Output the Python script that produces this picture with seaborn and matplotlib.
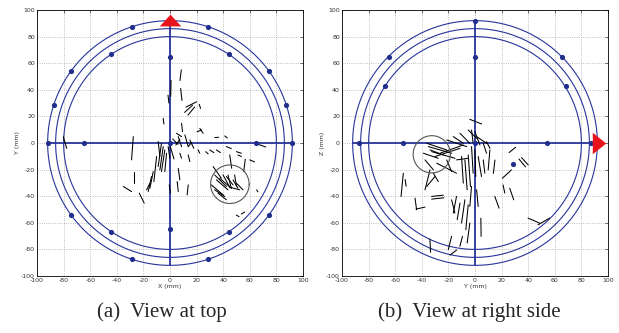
import numpy as np
import pandas as pd
import matplotlib
matplotlib.use("Agg")
import matplotlib.pyplot as plt
import seaborn as sns


# =========================
# 数据
# =========================
TICKS = [-100, -80, -60, -40, -20, 0, 20, 40, 60, 80, 100]
RING_RADII = [80, 86, 92]

# (a) 顶视图 marker 点
top_dot_x = [92, 87.5, 74.4, 28.4, -28.4, -74.4, -87.5, -92, -74.4, -28.4, 28.4, 74.4,
             -44, 44, -44, 44, 0, 0, -65, 65, 0]
top_dot_y = [0, 28.4, 54.1, 87.5, 87.5, 54.1, 28.4, 0, -54.1, -87.5, -87.5, -54.1,
             67, 67, -67, -67, 65, -65, 0, 0, 0]

# (b) 右视图 marker 点
side_dot_x = [0, 0, -65, -67.6, 65.6, 68.6, -87, -54, 0, 54.5, 87, 28.4]
side_dot_y = [92, 65, 65, 43, 65, 43, 0, 0, 0, 0, 0, -16]

# 轨迹线段 (x1, y1, x2, y2)
top_segments = [
    (8.5, 55, 7.5, 47), (0.8, 47, 0.5, 35), (-1.5, 36, -0.8, 30), (8, 41, 9, 32),
    (12, 27, 20, 31), (11, 23, 17, 28.5), (13.5, 21, 18.5, 27), (22, 29, 23, 26),
    (8.7, 14.8, 9.4, 8.5), (-5.1, 18.5, -4.6, 14.3), (22.4, 11.0, 24.9, 7.3),
    (20.4, 8.5, 23.9, 9.8), (4.9, 7.3, 8.7, 4.8), (6.2, 4.8, 8.7, -2.7),
    (4.4, -1.5, 7.4, 2.8), (11.2, 6.1, 13.7, -2.7), (14.9, 2.3, 17.9, -4.0),
    (13.7, -2.7, 16.2, 0.3), (2, 3, 6, -1), (0, -2, 3, -12),
    (-8.9, 1.1, -7.6, -10.2), (-6.4, -0.2, -8.9, -17.7), (-5.1, -2.7, -7.6, -20.2),
    (-3.9, -5.2, -6.4, -21.5), (-2.6, -7.7, -3.9, -21.5), (-10.1, -10.2, -12.1, -29.0),
    (-12.6, -21.5, -15.1, -34.0), (-13.9, -25.2, -16.4, -36.5), (-15.1, -30.2, -17.6, -35.2),
    (-1.4, -2.7, -0.1, -11.5), (-27.6, 4.8, -28.9, -12.7), (-26.9, -21.5, -26.9, -30.2),
    (-35.1, -32.7, -28.9, -36.5), (-23.1, -37.7, -19.4, -45.2), (6.2, -19.0, 7.4, -27.7),
    (5.4, -29.0, 6.2, -36.5), (13.7, -31.5, 12.9, -39.0), (-0.6, -31.5, 0.4, -37.7),
    (7.4, -7.7, 8.7, -11.5), (13.7, -9.0, 14.9, -14.0), (21.1, -5.2, 22.4, -7.7),
    (26.9, -6.5, 28.7, -8.2), (29.9, -5.2, 32.9, -7.2), (34.9, -5.2, 37.9, -7.2),
    (33.6, 4.1, 36.6, 4.3), (41.1, 5.3, 43.1, 3.8), (42.4, -2.7, 46.1, -4.2),
    (49.9, -6.5, 53.6, -7.7), (51.1, -9.0, 53.6, -10.2), (59.9, -12.7, 63.6, -14.2),
    (56.6, -12.2, 55.4, -21.5), (44.9, -9.0, 46.4, -19.0),
    (32.4, -17.7, 38.6, -26.5), (33.6, -24.0, 42.4, -32.7), (34.9, -27.7, 43.6, -35.2),
    (31.1, -31.5, 39.9, -39.0), (33.6, -35.2, 41.1, -40.2), (37.4, -26.5, 46.1, -34.0),
    (39.9, -24.0, 44.9, -33.2), (42.4, -25.2, 47.4, -31.5), (43.6, -24.0, 46.1, -34.0),
    (47.4, -27.7, 51.1, -34.0), (49.9, -30.2, 54.9, -35.2), (44.9, -33.2, 52.4, -35.2),
    (36.1, -37.7, 42.4, -42.7), (48.6, -24.0, 49.9, -32.3),
    (65.1, -35.2, 66.1, -36.7), (49.9, -54.2, 51.9, -55.4), (53.6, -53.4, 56.1, -51.9),
    (66.1, -0.9, 72.0, -3.0), (-80.2, 4.7, -77.7, -4.0),
]

side_segments = [
    (-3.9, 17.8, 5.0, 14.3),
    (-36.3, -0.2, -21.3, -5.2), (-35.1, -2.7, -17.5, -7.7), (-33.8, -5.2, -23.8, -9.0),
    (-32.6, -6.5, -15.0, -11.5), (-38.8, -7.7, -27.6, -11.5), (-30.1, -10.2, -11.3, -4.0),
    (-26.3, -7.7, -8.8, -1.5), (-21.3, 2.3, -6.3, -2.7), (-16.3, 4.8, -8.8, -0.2),
    (-11.3, 7.3, -3.9, -0.2), (-5.1, 9.8, 1.2, 3.5), (-2.6, 9.8, -1.4, -0.2),
    (-0.1, 8.5, 3.7, -1.5), (1.2, 4.8, 8.7, -0.2), (6.2, -0.2, 8.7, -7.7),
    (8.7, 1.0, 11.2, -4.0), (-37.6, -12.7, -31.3, -20.2), (-33.8, -20.2, -37.6, -35.2),
    (-36.3, -32.7, -30.1, -25.2), (-31.3, -22.7, -27.6, -29.0), (-28.8, -15.2, -13.9, -22.7),
    (-21.3, -12.7, -17.6, -21.5), (-13.9, -12.7, -5.1, -11.5), (-10.1, -10.2, -8.8, -30.2),
    (-7.6, -12.7, -5.9, -35.2), (-5.1, -9.0, -3.4, -32.7), (-2.6, -2.7, -1.4, -22.7),
    (-0.1, -5.2, 0.6, -25.2), (2.4, -10.2, 4.9, -25.2), (6.2, -12.7, 7.4, -22.7),
    (11.2, -5.2, 9.9, -20.2), (-53.9, -22.7, -55.6, -40.2), (-52.5, -27.5, -51.8, -32.5),
    (-45.1, -41.5, -43.9, -50.2), (-44.4, -49.7, -37.6, -48.2),
    (-32.6, -40.2, -23.8, -39.2), (-32.6, -42.2, -23.4, -41.2),
    (-17.6, -42.7, -15.1, -52.7), (-13.9, -40.2, -16.3, -52.7), (-11.3, -45.2, -13.4, -57.7),
    (-7.6, -42.7, -10.1, -60.2), (-5.1, -46.5, -6.9, -65.2), (-2.6, -32.7, -3.9, -47.7),
    (1.2, -35.2, 2.4, -47.7), (-3.9, -60.2, -5.9, -75.2), (-17.6, -70.2, -20.1, -80.2),
    (-9.4, -70.2, -11.4, -77.7), (4.4, -56.5, 4.6, -70.2), (-33.9, -72.2, -33.4, -82.2),
    (-18.8, -84.2, -13.8, -80.5),
    (25.6, -7.2, 30.6, -3.2), (35, -11, 40, -16.5), (33, -12, 38, -18),
    (20.6, -26.5, 27.4, -20.2), (21.1, -31.5, 22.4, -37.7), (26.1, -34.0, 29.1, -42.7),
    (14.9, -40.2, 18.1, -49.0), (15.0, -12.8, 13.8, -22.8),
    (39.9, -56.5, 48.6, -60.2), (47.4, -61.5, 56.1, -56.5),
]

# 灰色圆圈 (cx, cy, r)
top_highlight = (45, -31, 14.5)
side_highlight = (-32.5, -8.5, 14)

# 方向箭头位置
top_arrow = (0, 92.5)
side_arrow = (93.5, 0)

BLUE = "#27359a"
DOT = "#1f2d8c"


# =========================
# 绘图函数
# =========================
def segments_frame(segs):
    rows = []
    for i, (x1, y1, x2, y2) in enumerate(segs):
        rows.append({"seg": i, "x": x1, "y": y1})
        rows.append({"seg": i, "x": x2, "y": y2})
    return pd.DataFrame(rows)


def draw_panel(ax, dot_x, dot_y, segs, highlight, arrow, arrow_marker, xlabel, ylabel):
    ax.set_xlim(-100, 100)
    ax.set_ylim(-100, 100)

    t = np.linspace(0, 2 * np.pi, 400)
    for r in RING_RADII:
        ax.plot(r * np.cos(t), r * np.sin(t), color=BLUE, lw=0.8, zorder=2)

    # 十字轴线
    ax.plot([-92, 92], [0, 0], color=BLUE, lw=1.3, zorder=2)
    ax.plot([0, 0], [-92, 92], color=BLUE, lw=1.3, zorder=2)

    df = segments_frame(segs)
    sns.lineplot(data=df, x="x", y="y", units="seg", estimator=None, sort=False,
                 color="black", lw=0.75, ax=ax, zorder=3)

    cx, cy, r = highlight
    ax.plot(cx + r * np.cos(t), cy + r * np.sin(t), color="#555555", lw=0.8, zorder=3)

    sns.scatterplot(x=dot_x, y=dot_y, color=DOT, s=14, linewidth=0, ax=ax, zorder=4)

    ax.scatter([arrow[0]], [arrow[1]], marker=arrow_marker, s=240, color="#e8141c",
               linewidths=0, zorder=5, clip_on=False)

    ax.set_xticks(TICKS)
    ax.set_yticks(TICKS)
    ax.tick_params(labelsize=4.5, direction="in", length=2, width=0.5,
                   colors="#333333", pad=1.5, top=True, right=True)
    ax.grid(True, ls=":", color="#aaaaaa", lw=0.6)
    for s in ax.spines.values():
        s.set_color("black")
        s.set_linewidth(0.6)
    ax.set_xlabel(xlabel, fontsize=4.5, color="#333333", labelpad=1)
    ax.set_ylabel(ylabel, fontsize=4.5, color="#333333", labelpad=0.5)


sns.set_style("white")
plt.rcParams["font.family"] = ["DejaVu Sans"]
plt.rcParams["axes.unicode_minus"] = False

fig = plt.figure(figsize=(6.19, 3.33), dpi=100)
ax_a = fig.add_axes([37 / 619, 1 - 276 / 333, 266 / 619, 266 / 333])
ax_b = fig.add_axes([342 / 619, 1 - 276 / 333, 266 / 619, 266 / 333])

up_marker = [(-1, -0.55), (1, -0.55), (0, 0.55)]
right_marker = [(-0.5, -0.8), (-0.5, 0.8), (0.5, 0)]

draw_panel(ax_a, top_dot_x, top_dot_y, top_segments, top_highlight, top_arrow,
           up_marker, "X (mm)", "Y (mm)")
draw_panel(ax_b, side_dot_x, side_dot_y, side_segments, side_highlight, side_arrow,
           right_marker, "Y (mm)", "Z (mm)")

fig.text(162 / 619, 1 - 312 / 333, "(a)  View at top", ha="center", va="center",
         fontsize=15, family="Liberation Serif")
fig.text(469 / 619, 1 - 312 / 333, "(b)  View at right side", ha="center", va="center",
         fontsize=15, family="Liberation Serif")

fig.savefig("out.png", dpi=100)
